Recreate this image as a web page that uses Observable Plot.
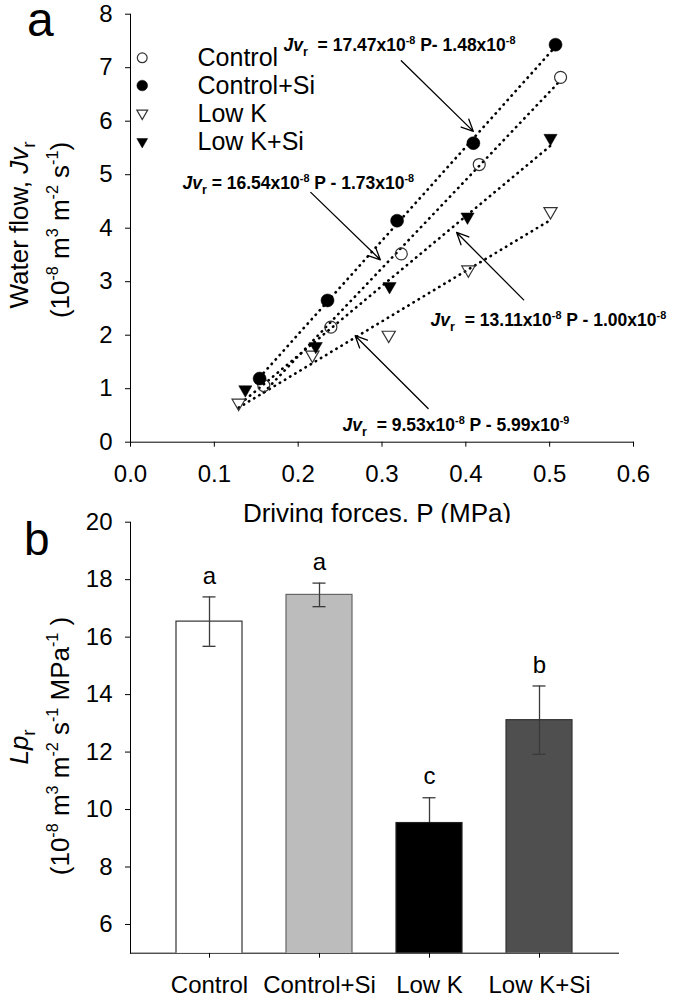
<!DOCTYPE html>
<html><head><meta charset="utf-8">
<script src="https://cdn.jsdelivr.net/npm/d3@7"></script>
<script src="https://cdn.jsdelivr.net/npm/@observablehq/plot@0.6"></script>
<style>
body{margin:0;background:#fff;}
#wrap{position:relative;width:675px;height:1000px;font-family:"Liberation Sans",Arial,sans-serif;}
#pa{position:absolute;left:0;top:0;}
#pb{position:absolute;left:0;top:500px;}
</style></head><body><div id="wrap"><div id="pa"></div><div id="pb"></div></div>
<script>
// ---------- data (panel a) ----------
const groups = ["Control", "Control+Si", "Low K", "Low K+Si"];
const pControl   = [0.159, 0.239, 0.323, 0.416, 0.513];
const jvControl  = [1.06, 2.15, 3.52, 5.19, 6.82];
const pControlSi = [0.154, 0.235, 0.318, 0.409, 0.507];
const jvControlSi= [1.19, 2.65, 4.14, 5.59, 7.43];
const pLowK      = [0.129, 0.217, 0.308, 0.403, 0.501];
const jvLowK     = [0.72, 1.62, 1.99, 3.21, 4.30];
const pLowKSi    = [0.137, 0.221, 0.309, 0.402, 0.501];
const jvLowKSi   = [0.97, 1.78, 2.90, 4.20, 5.67];
const xTicksA = [0, 0.1, 0.2, 0.3, 0.4, 0.5, 0.6];
const yTicksA = [0, 1, 2, 3, 4, 5, 6, 7, 8];
const equationTexts = [
  "*{Jv}_{r}  = 17.47x10^{-8} P- 1.48x10^{-8}",
  "*{Jv}_{r} = 16.54x10^{-8} P - 1.73x10^{-8}",
  "*{Jv}_{r}  = 13.11x10^{-8} P - 1.00x10^{-8}",
  "*{Jv}_{r}  = 9.53x10^{-8} P - 5.99x10^{-9}"
];
// annotation anchors (data units)
const eqP  = [0.1825, 0.062, 0.358, 0.253];
const eqJv = [7.415, 4.836, 2.275, 0.312];
const arrowFromP  = [0.323, 0.215, 0.469, 0.355];
const arrowFromJv = [7.13, 4.67, 2.66, 0.63];
const arrowToP    = [0.409, 0.298, 0.389, 0.268];
const arrowToJv   = [5.81, 3.41, 3.92, 1.99];
const legendMarkerP = 0.014, legendLabelP = 0.080;
const legendJv = [7.185, 6.667, 6.138, 5.607];

// ---------- data (panel b) ----------
const lpValues  = [16.54, 17.47, 9.53, 13.11];
const lpErrors  = [0.86, 0.41, 0.88, 1.19];
const lpLetters = ["a", "a", "c", "b"];
const yTicksB = [6, 8, 10, 12, 14, 16, 18, 20];
const barFills   = ["#ffffff", "#bcbcbc", "#000000", "#4f4f4f"];
const barStrokes = ["#333333", "#666666", "#222222", "#333333"];

// ---------- helpers ----------
const NS = "http://www.w3.org/2000/svg";
function rich(node, size) {
  const s = node.textContent;
  if (!/[\^_*]\{/.test(s)) return;
  if (!size) size = parseFloat(getComputedStyle(node).fontSize) || 16;
  node.textContent = "";
  const parts = s.split(/([\^_*]\{[^}]*\})/).filter(p => p !== "");
  let shift = 0;
  for (const p of parts) {
    let txt = p, dy = 0, fs = null, it = false;
    if (p.startsWith("^{")) { txt = p.slice(2, -1); dy = -0.42 * size; fs = 0.62 * size; }
    else if (p.startsWith("_{")) { txt = p.slice(2, -1); dy = 0.26 * size; fs = 0.72 * size; }
    else if (p.startsWith("*{")) { txt = p.slice(2, -1); it = true; }
    const ts = document.createElementNS(NS, "tspan");
    if (dy - shift !== 0) ts.setAttribute("dy", dy - shift);
    shift = dy;
    if (fs) ts.setAttribute("font-size", fs);
    if (it) ts.setAttribute("font-style", "italic");
    ts.textContent = txt;
    node.appendChild(ts);
  }
}
function addText(svg, {x, y, text, size, anchor = "middle", rotate = 0, weight = "normal", style = "normal"}) {
  const t = d3.select(svg).append("text")
    .attr("transform", `translate(${x},${y}) rotate(${rotate})`)
    .attr("text-anchor", anchor).attr("font-size", size)
    .attr("font-weight", weight).attr("font-style", style)
    .attr("fill", "black").text(text);
  rich(t.node(), size);
}
const downTri = {
  draw(ctx, size) {
    const r = Math.sqrt(size / Math.PI);
    ctx.moveTo(-r * 1.1, -r * 0.75);
    ctx.lineTo(r * 1.1, -r * 0.75);
    ctx.lineTo(0, r * 1.15);
    ctx.closePath();
  }
};

// ---------- panel a ----------
const seriesP  = [pControl, pControlSi, pLowK, pLowKSi];
const seriesJv = [jvControl, jvControlSi, jvLowK, jvLowKSi];
const points = groups.flatMap((g, i) => seriesP[i].map((p, j) => ({group: g, P: p, Jv: seriesJv[i][j]})));
const markerStyle = [
  {symbol: "circle", r: 6, fill: "none", stroke: "#333", strokeWidth: 1.2},
  {symbol: "circle", r: 6.5, fill: "black", stroke: "black", strokeWidth: 0.5},
  {symbol: downTri, r: 6, fill: "none", stroke: "#333", strokeWidth: 1.2},
  {symbol: downTri, r: 6, fill: "black", stroke: "black", strokeWidth: 0.5}
];
const legendRows = groups.map((g, i) => ({group: g, Jv: legendJv[i]}));
const eqRows = equationTexts.map((t, i) => ({text: t, P: eqP[i], Jv: eqJv[i]}));
const arrowRows = arrowFromP.map((p, i) => ({x1: p, y1: arrowFromJv[i], x2: arrowToP[i], y2: arrowToJv[i]}));

const marksA = [
  Plot.linearRegressionY(points, {x: "P", y: "Jv", z: "group", ci: 0, stroke: "black",
    strokeWidth: 2.6, strokeDasharray: "0.4,5.6", strokeLinecap: "round"}),
  ...groups.map((g, i) => Plot.dot(points.filter(d => d.group === g), {x: "P", y: "Jv", ...markerStyle[i]})),
  ...groups.map((g, i) => Plot.dot([legendRows[i]], {x: () => legendMarkerP, y: "Jv", ...markerStyle[i], r: markerStyle[i].r * 0.82})),
  Plot.text(legendRows, {x: () => legendLabelP, y: "Jv", text: "group", textAnchor: "start", fontSize: 25, fill: "black"}),
  Plot.arrow(arrowRows, {x1: "x1", y1: "y1", x2: "x2", y2: "y2", stroke: "black", strokeWidth: 1.3, headLength: 15, headAngle: 50}),
  Plot.text(eqRows, {x: "P", y: "Jv", text: "text", textAnchor: "start", fontSize: 17.5, fontWeight: "bold", fill: "black"})
];

const plotA = Plot.plot({
  width: 675, height: 523,
  marginLeft: 130, marginRight: 42, marginTop: 13.7, marginBottom: 81.3,
  style: {background: "transparent", fontFamily: "'Liberation Sans', Arial, sans-serif", fontSize: "24px", color: "black", overflow: "hidden"},
  x: {domain: [0, 0.6], ticks: xTicksA, tickFormat: d3.format(".1f"), tickSize: 5, tickPadding: 18, label: null, line: true},
  y: {domain: [0, 8], ticks: yTicksA, tickSize: 5, tickPadding: 13, label: null, line: true},
  marks: marksA
});
document.getElementById("pa").appendChild(plotA);
plotA.querySelectorAll("text").forEach(t => rich(t));
addText(plotA, {x: 377, y: 522, text: "Driving forces. P (MPa)", size: 26});
addText(plotA, {x: 28, y: 225, text: "Water flow, *{Jv}_{r}", size: 26, rotate: -90});
addText(plotA, {x: 69, y: 230, text: "(10^{-8} m^{3} m^{-2} s^{-1})", size: 26, rotate: -90});
addText(plotA, {x: 27, y: 36, text: "a", size: 48, anchor: "start"});

// ---------- panel b ----------
const bars = groups.map((g, i) => ({group: g, lp: lpValues[i], err: lpErrors[i], letter: lpLetters[i], fill: barFills[i], stroke: barStrokes[i]}));
const errColor = d => d.fill === "#000000" ? "#000000" : "#3a3a3a";
const plotB = Plot.plot({
  width: 675, height: 500,
  marginLeft: 130, marginRight: 57, marginTop: 21.7, marginBottom: 47.3,
  style: {background: "transparent", fontFamily: "'Liberation Sans', Arial, sans-serif", fontSize: "24px", color: "black", overflow: "visible"},
  color: {type: "identity"},
  x: {domain: groups, padding: 0.4, tickSize: 5, tickPadding: 18, label: null, line: true},
  y: {domain: [5, 20], ticks: yTicksB, tickSize: 5, tickPadding: 13, label: null, line: true},
  marks: [
    Plot.barY(bars, {x: "group", y: "lp", fill: "fill", stroke: "stroke", strokeWidth: 1.2, clip: true}),
    Plot.ruleX(bars, {x: "group", y1: "lp", y2: d => d.lp + d.err, stroke: "#3a3a3a", strokeWidth: 1.3}),
    Plot.ruleX(bars, {x: "group", y1: d => d.lp - d.err, y2: "lp", stroke: errColor, strokeWidth: 1.3}),
    Plot.tickY(bars, {x: "group", y: d => d.lp + d.err, insetLeft: 26.5, insetRight: 26.5, stroke: "#3a3a3a", strokeWidth: 1.3}),
    Plot.tickY(bars, {x: "group", y: d => d.lp - d.err, insetLeft: 26.5, insetRight: 26.5, stroke: errColor, strokeWidth: 1.3}),
    Plot.text(bars, {x: "group", y: d => d.lp + d.err, text: "letter", dy: -21, fontSize: 24, fill: "black"})
  ]
});
document.getElementById("pb").appendChild(plotB);
addText(plotB, {x: 28, y: 247, text: "*{Lp}_{r}", size: 26, rotate: -90});
addText(plotB, {x: 69, y: 246, text: "(10^{-8} m^{3} m^{-2} s^{-1} MPa^{-1} )", size: 26, rotate: -90});
addText(plotB, {x: 24, y: 55, text: "b", size: 46, anchor: "start"});
</script></body></html>
